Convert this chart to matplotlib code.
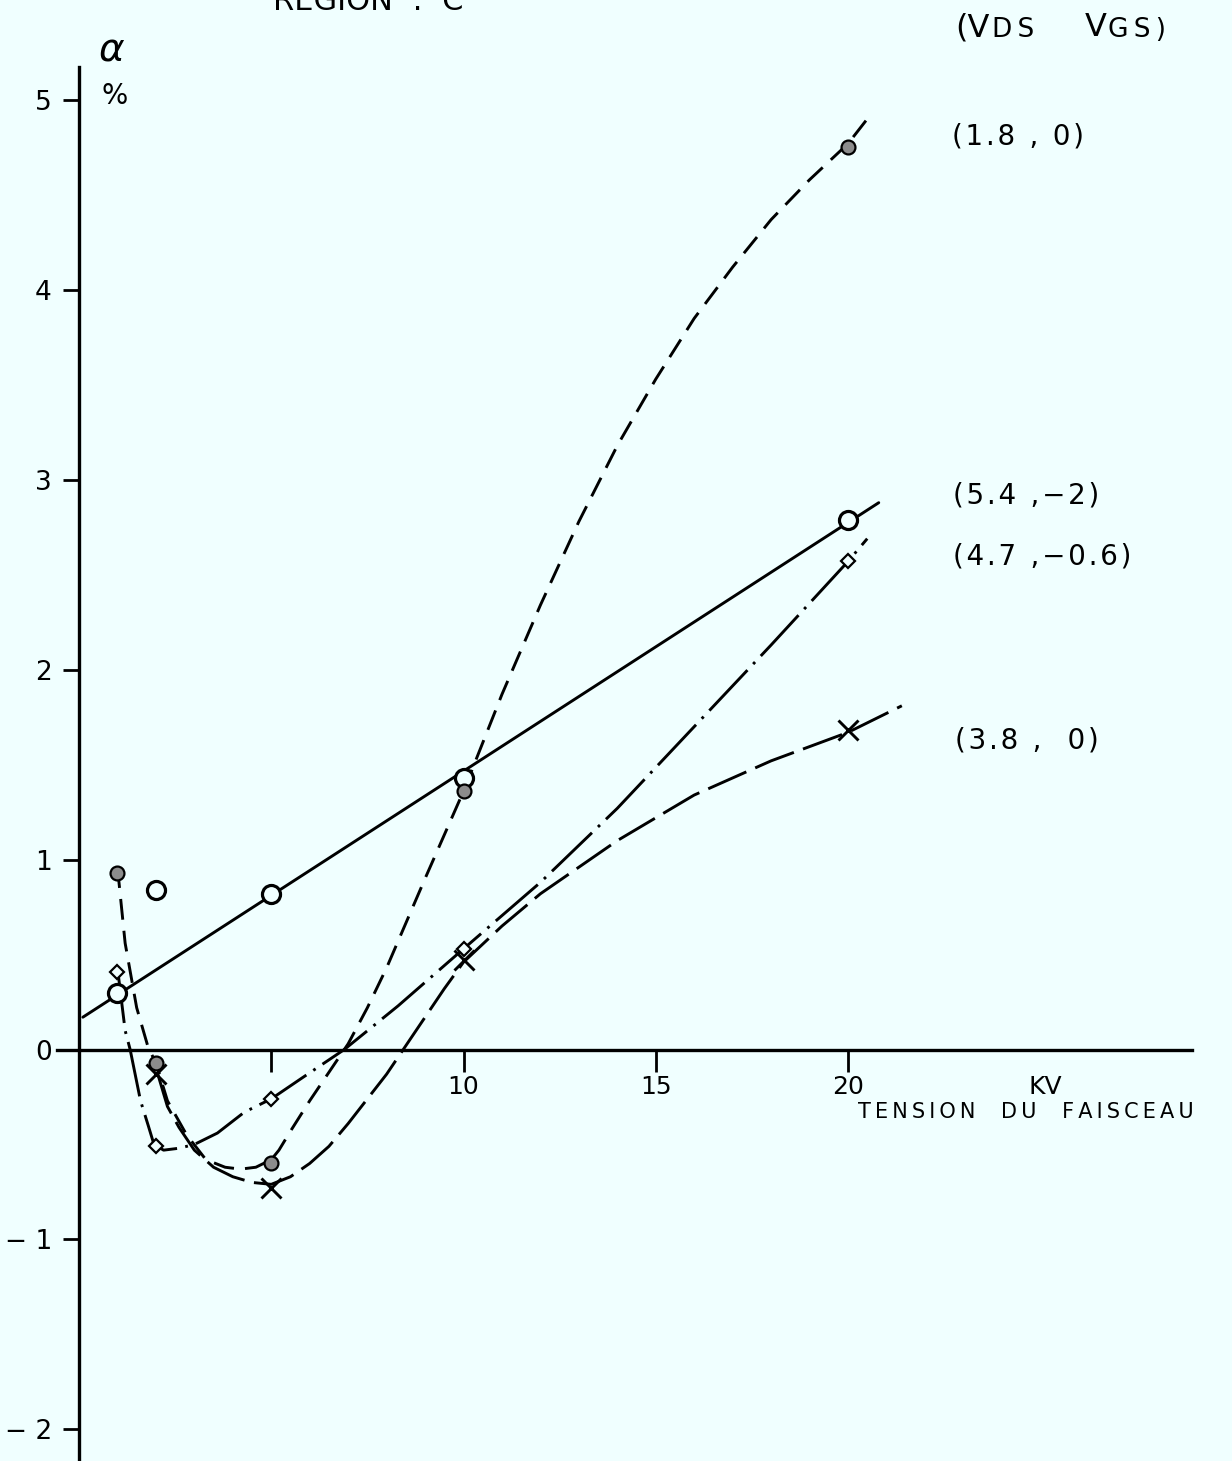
import numpy as np
import matplotlib
matplotlib.use("Agg")
import matplotlib.pyplot as plt

plt.rcParams['font.family'] = ['DejaVu Sans']
plt.rcParams['lines.scale_dashes'] = False

W, H = 1232, 1461
BG = '#F0FFFF'

# ---- measured points (beam voltage kV, alpha %) ----
kv_a = [1, 2, 5, 10, 20]                 # (5.4, -2)  circles
alpha_a = [0.30, 0.84, 0.82, 1.43, 2.79]
fit_a_pts = [0, 2, 3, 4]                 # points used for the straight line
line_a_x = [0.1, 20.8]

kv_b = [1, 2, 5, 10, 20]                 # (1.8, 0)  dots, dashed
alpha_b = [0.93, -0.07, -0.60, 1.36, 4.75]

kv_c = [1, 2, 5, 10, 20]                 # (4.7, -0.6)  diamonds, dash-dot
alpha_c = [0.41, -0.51, -0.26, 0.53, 2.57]

kv_d = [2, 5, 10, 20]                    # (3.8, 0)  crosses, long dash
alpha_d = [-0.13, -0.73, 0.47, 1.68]

# ---- hand-drawn curves through the points ----
curve_b_x = [1.0, 1.2, 1.5, 1.8, 2.0, 2.3, 2.8, 3.3, 3.8, 4.2, 4.6, 5.0, 5.2, 5.5, 6.0,
             6.5, 7.0, 7.5, 8.0, 9.0, 10.0, 11.0, 12.0, 13.0, 14.0, 15.0, 16.0, 17.0,
             18.0, 19.0, 20.0, 20.5]
curve_b_y = [0.96, 0.56, 0.22, 0.01, -0.07, -0.27, -0.45, -0.58, -0.62, -0.63, -0.62, -0.58,
             -0.53, -0.43, -0.27, -0.12, 0.03, 0.22, 0.43, 0.90, 1.36, 1.87, 2.34, 2.78,
             3.18, 3.53, 3.85, 4.12, 4.37, 4.58, 4.77, 4.90]

curve_c_x = [1.0, 1.2, 1.33, 1.6, 1.8, 1.95, 2.2, 2.6, 3.0, 3.6, 4.3, 5.0, 5.8, 6.9, 8.3,
             10.0, 12.0, 14.0, 16.0, 18.0, 20.0, 20.5]
curve_c_y = [0.43, 0.10, 0.00, -0.27, -0.40, -0.50, -0.53, -0.52, -0.50, -0.44, -0.33, -0.26,
             -0.15, 0.00, 0.23, 0.53, 0.88, 1.27, 1.70, 2.13, 2.57, 2.69]

curve_d_x = [2.05, 2.3, 2.6, 3.0, 3.5, 4.0, 4.5, 5.0, 5.5, 6.0, 6.5, 7.0, 7.5, 8.0, 8.5,
             9.0, 9.5, 10.0, 11.0, 12.0, 14.0, 16.0, 18.0, 20.0, 21.4]
curve_d_y = [-0.13, -0.30, -0.41, -0.53, -0.62, -0.67, -0.70, -0.71, -0.67, -0.60, -0.51,
             -0.39, -0.26, -0.13, 0.02, 0.17, 0.32, 0.46, 0.65, 0.82, 1.10, 1.34, 1.52,
             1.67, 1.81]

y_ticks = [-2, -1, 0, 1, 2, 3, 4, 5]
y_labels = ['\u2212 2', '\u2212 1', '0', '1', '2', '3', '4', '5']
x_ticks = [5, 10, 15, 20]
x_labels = ['', '10', '15', '20']

series_labels = ['(1.8 , 0)', '(5.4 ,\u22122)', '(4.7 ,\u22120.6)', '(3.8 ,  0)']


def spaced(s, gap='\u2009'):
    """Open up the lettering like a stencil/Leroy caption."""
    return gap.join(s)


# ---- figure ----
fig = plt.figure(figsize=(W / 100, H / 100), dpi=100, facecolor=BG)
ax = fig.add_axes([0, 0, 1, 1], facecolor=BG)
x0_px, x_scale = 79.0, 38.45
y0_px, y_scale = 1049.5, 189.9
ax.set_xlim(-x0_px / x_scale, (W - x0_px) / x_scale)
ax.set_ylim((y0_px - H) / y_scale, y0_px / y_scale)

# axes through the origin
for s in ['top', 'right']:
    ax.spines[s].set_visible(False)
ax.spines['left'].set_position(('data', 0))
ax.spines['bottom'].set_position(('data', 0))
ax.spines['left'].set_bounds((y0_px - H) / y_scale, (y0_px - 67) / y_scale)
ax.spines['bottom'].set_bounds((57 - x0_px) / x_scale, (1192 - x0_px) / x_scale)
ax.spines['left'].set_linewidth(2.4)
ax.spines['bottom'].set_linewidth(2.4)

ax.set_yticks(y_ticks)
ax.set_yticklabels(y_labels)
ax.set_xticks(x_ticks)
ax.set_xticklabels(x_labels)
ax.tick_params(axis='y', direction='out', length=11.5, width=2.0, pad=8, labelsize=19)
ax.tick_params(axis='x', direction='out', length=16, width=2.0, pad=2, labelsize=18)

lw = 2.1
# (5.4, -2): straight line fitted to the circles
coef = np.polyfit(np.array(kv_a)[fit_a_pts], np.array(alpha_a)[fit_a_pts], 1)
ax.plot(line_a_x, np.polyval(coef, line_a_x), color='black', lw=lw, solid_capstyle='round')
# (1.8, 0): dashed
ax.plot(curve_b_x, curve_b_y, color='black', lw=lw, linestyle=(0, (15, 8)))
# (4.7, -0.6): dash-dot
ax.plot(curve_c_x, curve_c_y, color='black', lw=lw, linestyle=(0, (40, 6, 2, 6)))
# (3.8, 0): long dash
ax.plot(curve_d_x, curve_d_y, color='black', lw=lw, linestyle=(0, (30, 7)))

ax.plot(kv_a, alpha_a, linestyle='none', marker='o', ms=13, mfc=BG, mec='black', mew=2.3)
ax.plot(kv_b, alpha_b, linestyle='none', marker='o', ms=10, mfc='0.55', mec='black', mew=1.6)
ax.plot(kv_c, alpha_c, linestyle='none', marker='D', ms=7.5, mfc=BG, mec='black', mew=1.6)
ax.plot(kv_d, alpha_d, linestyle='none', marker='x', ms=15, mec='black', mew=2.1)


def ptext(x, y, s, **kw):
    fig.text(x / W, 1 - y / H, s, **kw)


# texts
ptext(273, 10, 'REGION  :  C', fontsize=22, ha='left', va='baseline')
ptext(112, 50, '\u03b1', fontsize=28, ha='center', va='center', style='italic')
ptext(115, 96, '%', fontsize=20, ha='center', va='center')
ptext(955, 28, '(V', fontsize=23, ha='left', va='center')
ptext(992, 30, spaced('DS'), fontsize=19, ha='left', va='center')
ptext(1085, 28, 'V', fontsize=23, ha='left', va='center')
ptext(1108, 30, spaced('GS)'), fontsize=19, ha='left', va='center')

label_pos = [(952, 136), (953, 495), (953, 556), (955, 740)]
for (lx, ly), s in zip(label_pos, series_labels):
    ptext(lx, ly, spaced(s, '\u200a'), fontsize=20, ha='left', va='center')

ptext(1045, 1087, 'KV', fontsize=18, ha='center', va='center')
ptext(1194, 1112, spaced('TENSION  DU  FAISCEAU'), fontsize=15, ha='right', va='center')

fig.savefig('out.png', dpi=100, facecolor=BG)
